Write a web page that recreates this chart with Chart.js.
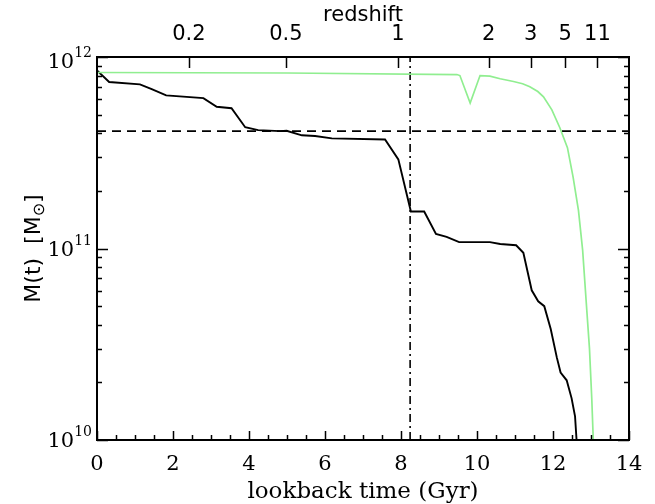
<!DOCTYPE html>
<html>
<head>
<meta charset="utf-8">
<script src="https://cdn.jsdelivr.net/npm/chart.js@4.4.1/dist/chart.umd.min.js"></script>
<style>
  html, body { margin: 0; background: #fff; }
  #wrap { width: 655px; height: 504px; }
</style>
</head>
<body>
<div id="wrap"><canvas id="chart"></canvas></div>
<script>
// ── data ─────────────────────────────────────────────────
const mainTime = [0, 0.32, 1.13, 1.44, 1.82, 2.8, 3.15, 3.54, 3.9, 4.24, 4.82, 4.99, 5.39, 5.74, 6.18, 7.58,
  7.93, 8.26, 8.61, 8.92, 9.2, 9.53, 10.34, 10.61, 11.03, 11.22, 11.44, 11.61, 11.77, 11.94, 12.1, 12.2,
  12.36, 12.49, 12.58, 12.62];
const mainMass = [8.5e11, 7.4e11, 7.2e11, 6.8e11, 6.3e11, 6.1e11, 5.5e11, 5.4e11, 4.3e11, 4.15e11, 4.1e11,
  4.12e11, 3.9e11, 3.87e11, 3.76e11, 3.71e11, 2.92e11, 1.56e11, 1.56e11, 1.19e11, 1.15e11, 1.08e11,
  1.08e11, 1.055e11, 1.04e11, 9.5e10, 6.05e10, 5.3e10, 5.0e10, 3.8e10, 2.7e10, 2.25e10, 2.05e10,
  1.65e10, 1.33e10, 1.0e10];

const totalTime = [0, 5, 9.47, 9.55, 9.82, 10.08, 10.34, 10.61, 10.96, 11.2, 11.39, 11.6, 11.75, 11.97,
  12.18, 12.38, 12.53, 12.67, 12.78, 12.87, 12.96, 13.02, 13.06];
const totalMass = [8.3e11, 8.25e11, 8.1e11, 8.0e11, 5.75e11, 8.0e11, 7.95e11, 7.7e11, 7.45e11, 7.25e11,
  7.0e11, 6.6e11, 6.2e11, 5.3e11, 4.27e11, 3.36e11, 2.35e11, 1.58e11, 9.8e10, 5.4e10, 3.0e10, 1.65e10,
  1.0e10];

const halfMass = 4.1e11;      // horizontal dashed line
const markTime = 8.24;        // vertical dash-dot line

const lookbackTicks  = [0, 0.5, 1, 1.5, 2, 2.5, 3, 3.5, 4, 4.5, 5, 5.5, 6, 6.5, 7, 7.5, 8, 8.5, 9, 9.5,
  10, 10.5, 11, 11.5, 12, 12.5, 13, 13.5, 14];
const lookbackLabels = [0, 2, 4, 6, 8, 10, 12, 14];

const redshiftLabels = ['0.2', '0.5', '1', '2', '3', '5', '11'];
const redshiftTimes  = [2.42, 4.97, 7.92, 10.31, 11.41, 12.32, 13.17];

const massTicks = [1e10, 2e10, 3e10, 4e10, 5e10, 6e10, 7e10, 8e10, 9e10,
  1e11, 2e11, 3e11, 4e11, 5e11, 6e11, 7e11, 8e11, 9e11, 1e12];
const massMajor = [1e10, 1e11, 1e12];

// ── helpers ──────────────────────────────────────────────
const pts = (xs, ys) => xs.map((x, i) => ({ x, y: ys[i] }));
const SERIF = '"DejaVu Serif", serif';
const SANS  = '"DejaVu Sans", sans-serif';

// frame, inward ticks, y labels and y title
const framePlugin = {
  id: 'frame',
  afterDraw(chart) {
    const { ctx, chartArea: a, scales } = chart;
    const { x, x2, y } = scales;
    ctx.save();
    ctx.strokeStyle = '#000';
    ctx.lineWidth = 1.5;
    ctx.beginPath();
    lookbackTicks.forEach(v => {
      const px = Math.round(x.getPixelForValue(v)) + 0.5;
      const len = lookbackLabels.includes(v) ? 9 : 5;
      ctx.moveTo(px, a.bottom); ctx.lineTo(px, a.bottom - len);
    });
    redshiftTimes.forEach(v => {
      const px = Math.round(x2.getPixelForValue(v)) + 0.5;
      ctx.moveTo(px, a.top); ctx.lineTo(px, a.top + 11);
    });
    massTicks.forEach(v => {
      const py = Math.round(y.getPixelForValue(v)) + 0.5;
      const len = massMajor.includes(v) ? 11 : 5;
      ctx.moveTo(a.left, py); ctx.lineTo(a.left + len, py);
      ctx.moveTo(a.right, py); ctx.lineTo(a.right - len, py);
    });
    ctx.stroke();

    ctx.lineWidth = 2;
    ctx.strokeRect(a.left, a.top, a.right - a.left, a.bottom - a.top);

    // y labels 10^n
    ctx.fillStyle = '#000';
    ctx.textBaseline = 'alphabetic';
    ctx.textAlign = 'left';
    massMajor.forEach(v => {
      const py = y.getPixelForValue(v);
      const exp = String(Math.round(Math.log10(v)));
      ctx.font = '14px ' + SERIF;
      const ew = ctx.measureText(exp).width;
      ctx.font = '21px ' + SERIF;
      const bw = ctx.measureText('10').width;
      const right = a.left - 5;
      const dy = v === 1e12 ? 11 : 7;
      ctx.fillText('10', right - ew - bw, py + dy);
      ctx.font = '14px ' + SERIF;
      ctx.fillText(exp, right - ew, py + dy - 11);
    });

    // y title: M(t) [M_sun]
    ctx.translate(40, y.getPixelForValue(1e11));
    ctx.rotate(-Math.PI / 2);
    const p1 = 'M(t)  [M', p2 = '\u2299', p3 = ']';
    ctx.font = '22px ' + SANS;
    const w1 = ctx.measureText(p1).width, w3 = ctx.measureText(p3).width;
    ctx.font = '16px ' + SANS;
    const w2 = ctx.measureText(p2).width;
    const start = -(w1 + w2 + w3) / 2;
    ctx.font = '22px ' + SANS;
    ctx.fillText(p1, start, 0);
    ctx.font = '16px ' + SANS;
    ctx.fillText(p2, start + w1, 4);
    ctx.font = '22px ' + SANS;
    ctx.fillText(p3, start + w1 + w2, 0);
    ctx.restore();
  }
};

new Chart(document.getElementById('chart'), {
  type: 'line',
  data: {
    datasets: [
      { data: pts(totalTime, totalMass), borderColor: '#90ee90', borderWidth: 1.7, pointRadius: 0, tension: 0 },
      { data: pts(mainTime, mainMass), borderColor: '#000', borderWidth: 1.9, pointRadius: 0, tension: 0 },
      { data: [{ x: 0, y: halfMass }, { x: 14, y: halfMass }], borderColor: '#000', borderWidth: 1.6,
        borderDash: [9, 6], pointRadius: 0 },
      { data: [{ x: markTime, y: 1e10 }, { x: markTime, y: 1e12 }], borderColor: '#000', borderWidth: 1.6,
        borderDash: [8, 4, 2, 4], pointRadius: 0 },
    ],
  },
  options: {
    responsive: true, maintainAspectRatio: false, animation: false,
    layout: { padding: { right: 26 } },
    plugins: { legend: { display: false }, tooltip: { enabled: false } },
    scales: {
      x: {
        type: 'linear', position: 'bottom', min: 0, max: 14,
        afterBuildTicks: s => { s.ticks = lookbackLabels.map(v => ({ value: v })); },
        afterFit: s => { s.height = 64; },
        grid: { display: false, drawTicks: false }, border: { display: false },
        ticks: { autoSkip: false, maxRotation: 0, color: '#000', padding: 12, font: { family: SERIF, size: 21 } },
        title: { display: true, text: 'lookback time (Gyr)', color: '#000', padding: 0,
          font: { family: SERIF, size: 23, lineHeight: 1 } },
      },
      x2: {
        type: 'linear', position: 'top', min: 0, max: 14,
        afterBuildTicks: s => { s.ticks = redshiftTimes.map(v => ({ value: v })); },
        afterFit: s => { s.height = 57; },
        grid: { display: false, drawTicks: false }, border: { display: false },
        ticks: { autoSkip: false, maxRotation: 0, color: '#000', padding: 10,
          callback: (v, i) => redshiftLabels[i], font: { family: SANS, size: 21 } },
        title: { display: true, text: 'redshift', color: '#000', padding: { top: 3, bottom: 0 },
          font: { family: SANS, size: 21 } },
      },
      y: {
        type: 'logarithmic', position: 'left', min: 1e10, max: 1e12,
        afterBuildTicks: s => { s.ticks = massTicks.map(v => ({ value: v })); },
        afterFit: s => { s.width = 97; },
        grid: { display: false }, border: { display: false },
        ticks: { display: false },
      },
    },
  },
  plugins: [framePlugin],
});
</script>
</body>
</html>
